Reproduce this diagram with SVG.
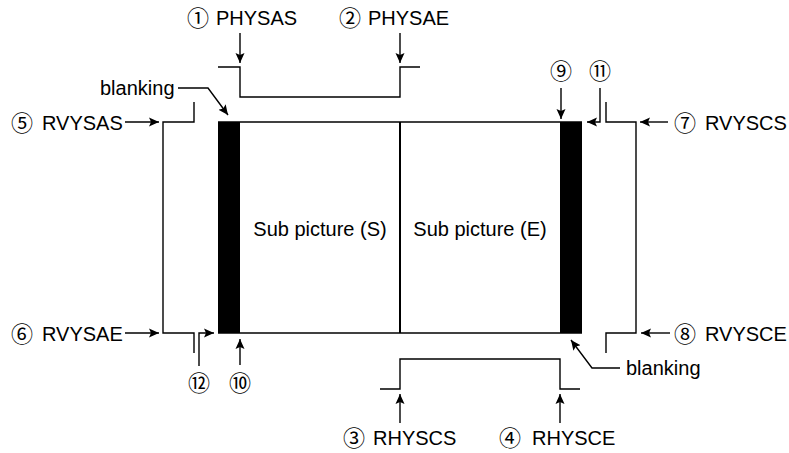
<svg xmlns="http://www.w3.org/2000/svg" width="789" height="453" viewBox="0 0 789 453">
<defs>
<marker id="ah" markerUnits="userSpaceOnUse" markerWidth="10" markerHeight="10" refX="10" refY="5" orient="auto">
<path d="M0,0.5 L10,5 L0,9.5 L2,5 Z" fill="#000"/>
</marker>
</defs>
<style>
.t{font-family:"Liberation Sans","Noto Sans CJK JP",sans-serif;font-size:20px;fill:#000}
.c{font-family:"Noto Sans CJK JP","DejaVu Sans",sans-serif;font-size:22px;fill:#000;text-anchor:middle}
.w{fill:none;stroke:#000;stroke-width:1.4}
.a{fill:none;stroke:#000;stroke-width:1.4;marker-end:url(#ah)}
</style>
<rect width="789" height="453" fill="#fff"/>
<g id="frame">
<line x1="218" y1="122" x2="582" y2="122" class="w"/>
<line x1="218" y1="333" x2="582" y2="333" class="w"/>
<line x1="400" y1="122" x2="400" y2="333" stroke="#000" stroke-width="2"/>
<rect x="218" y="122" width="22" height="211" fill="#000"/>
<rect x="560" y="122" width="22" height="211" fill="#000"/>
<text x="320" y="236" class="t" text-anchor="middle">Sub picture (S)</text>
<text x="480" y="236" class="t" text-anchor="middle">Sub picture (E)</text>
</g>
<g id="waveforms">
<path d="M218 67 H240 V97 H400 V67 H420" class="w"/>
<path d="M194 102 V122 H163 V333 H194 V353" class="w"/>
<path d="M606 102 V122 H636 V333 H606 V353" class="w"/>
<path d="M380 389 H400 V359 H560 V389 H580" class="w"/>
</g>
<g id="connectors">
<path d="M240 33 V63" class="a"/>
<path d="M400 33 V63" class="a"/>
<path d="M125 122 H159" class="a"/>
<path d="M125 333 H159" class="a"/>
<path d="M668 122 H640" class="a"/>
<path d="M670 333 H641" class="a"/>
<path d="M561 88 V119" class="a"/>
<path d="M600 88 V122 H587" class="a"/>
<path d="M199 366 V333 H214" class="a"/>
<path d="M240 365 V339" class="a"/>
<path d="M400 423 V394" class="a"/>
<path d="M560 423 V394" class="a"/>
<path d="M178 88 H208 L228 115" class="a"/>
<path d="M620 368 H592 L571 340" class="a"/>
</g>
<g id="label-physas"><text x="198" y="26" class="c">①</text><text x="216" y="25" class="t">PHYSAS</text></g>
<g id="label-physae"><text x="350" y="26" class="c">②</text><text x="368" y="25" class="t">PHYSAE</text></g>
<g id="label-rvysas"><text x="22" y="131" class="c">⑤</text><text x="42" y="130" class="t">RVYSAS</text></g>
<g id="label-rvysae"><text x="22" y="342" class="c">⑥</text><text x="42" y="341" class="t">RVYSAE</text></g>
<g id="label-rvyscs"><text x="685" y="131" class="c">⑦</text><text x="705" y="130" class="t">RVYSCS</text></g>
<g id="label-rvysce"><text x="685" y="342" class="c">⑧</text><text x="705" y="341" class="t">RVYSCE</text></g>
<g id="label-rhyscs"><text x="354" y="446" class="c">③</text><text x="373" y="445" class="t">RHYSCS</text></g>
<g id="label-rhysce"><text x="510" y="446" class="c">④</text><text x="532" y="445" class="t">RHYSCE</text></g>
<g id="label-9"><text x="561" y="79" class="c">⑨</text></g>
<g id="label-11"><text x="600" y="79" class="c">⑪</text></g>
<g id="label-12"><text x="199" y="391" class="c">⑫</text></g>
<g id="label-10"><text x="240" y="391" class="c">⑩</text></g>
<g id="label-blanking1"><text x="100" y="95" class="t">blanking</text></g>
<g id="label-blanking2"><text x="626" y="375" class="t">blanking</text></g>
</svg>
